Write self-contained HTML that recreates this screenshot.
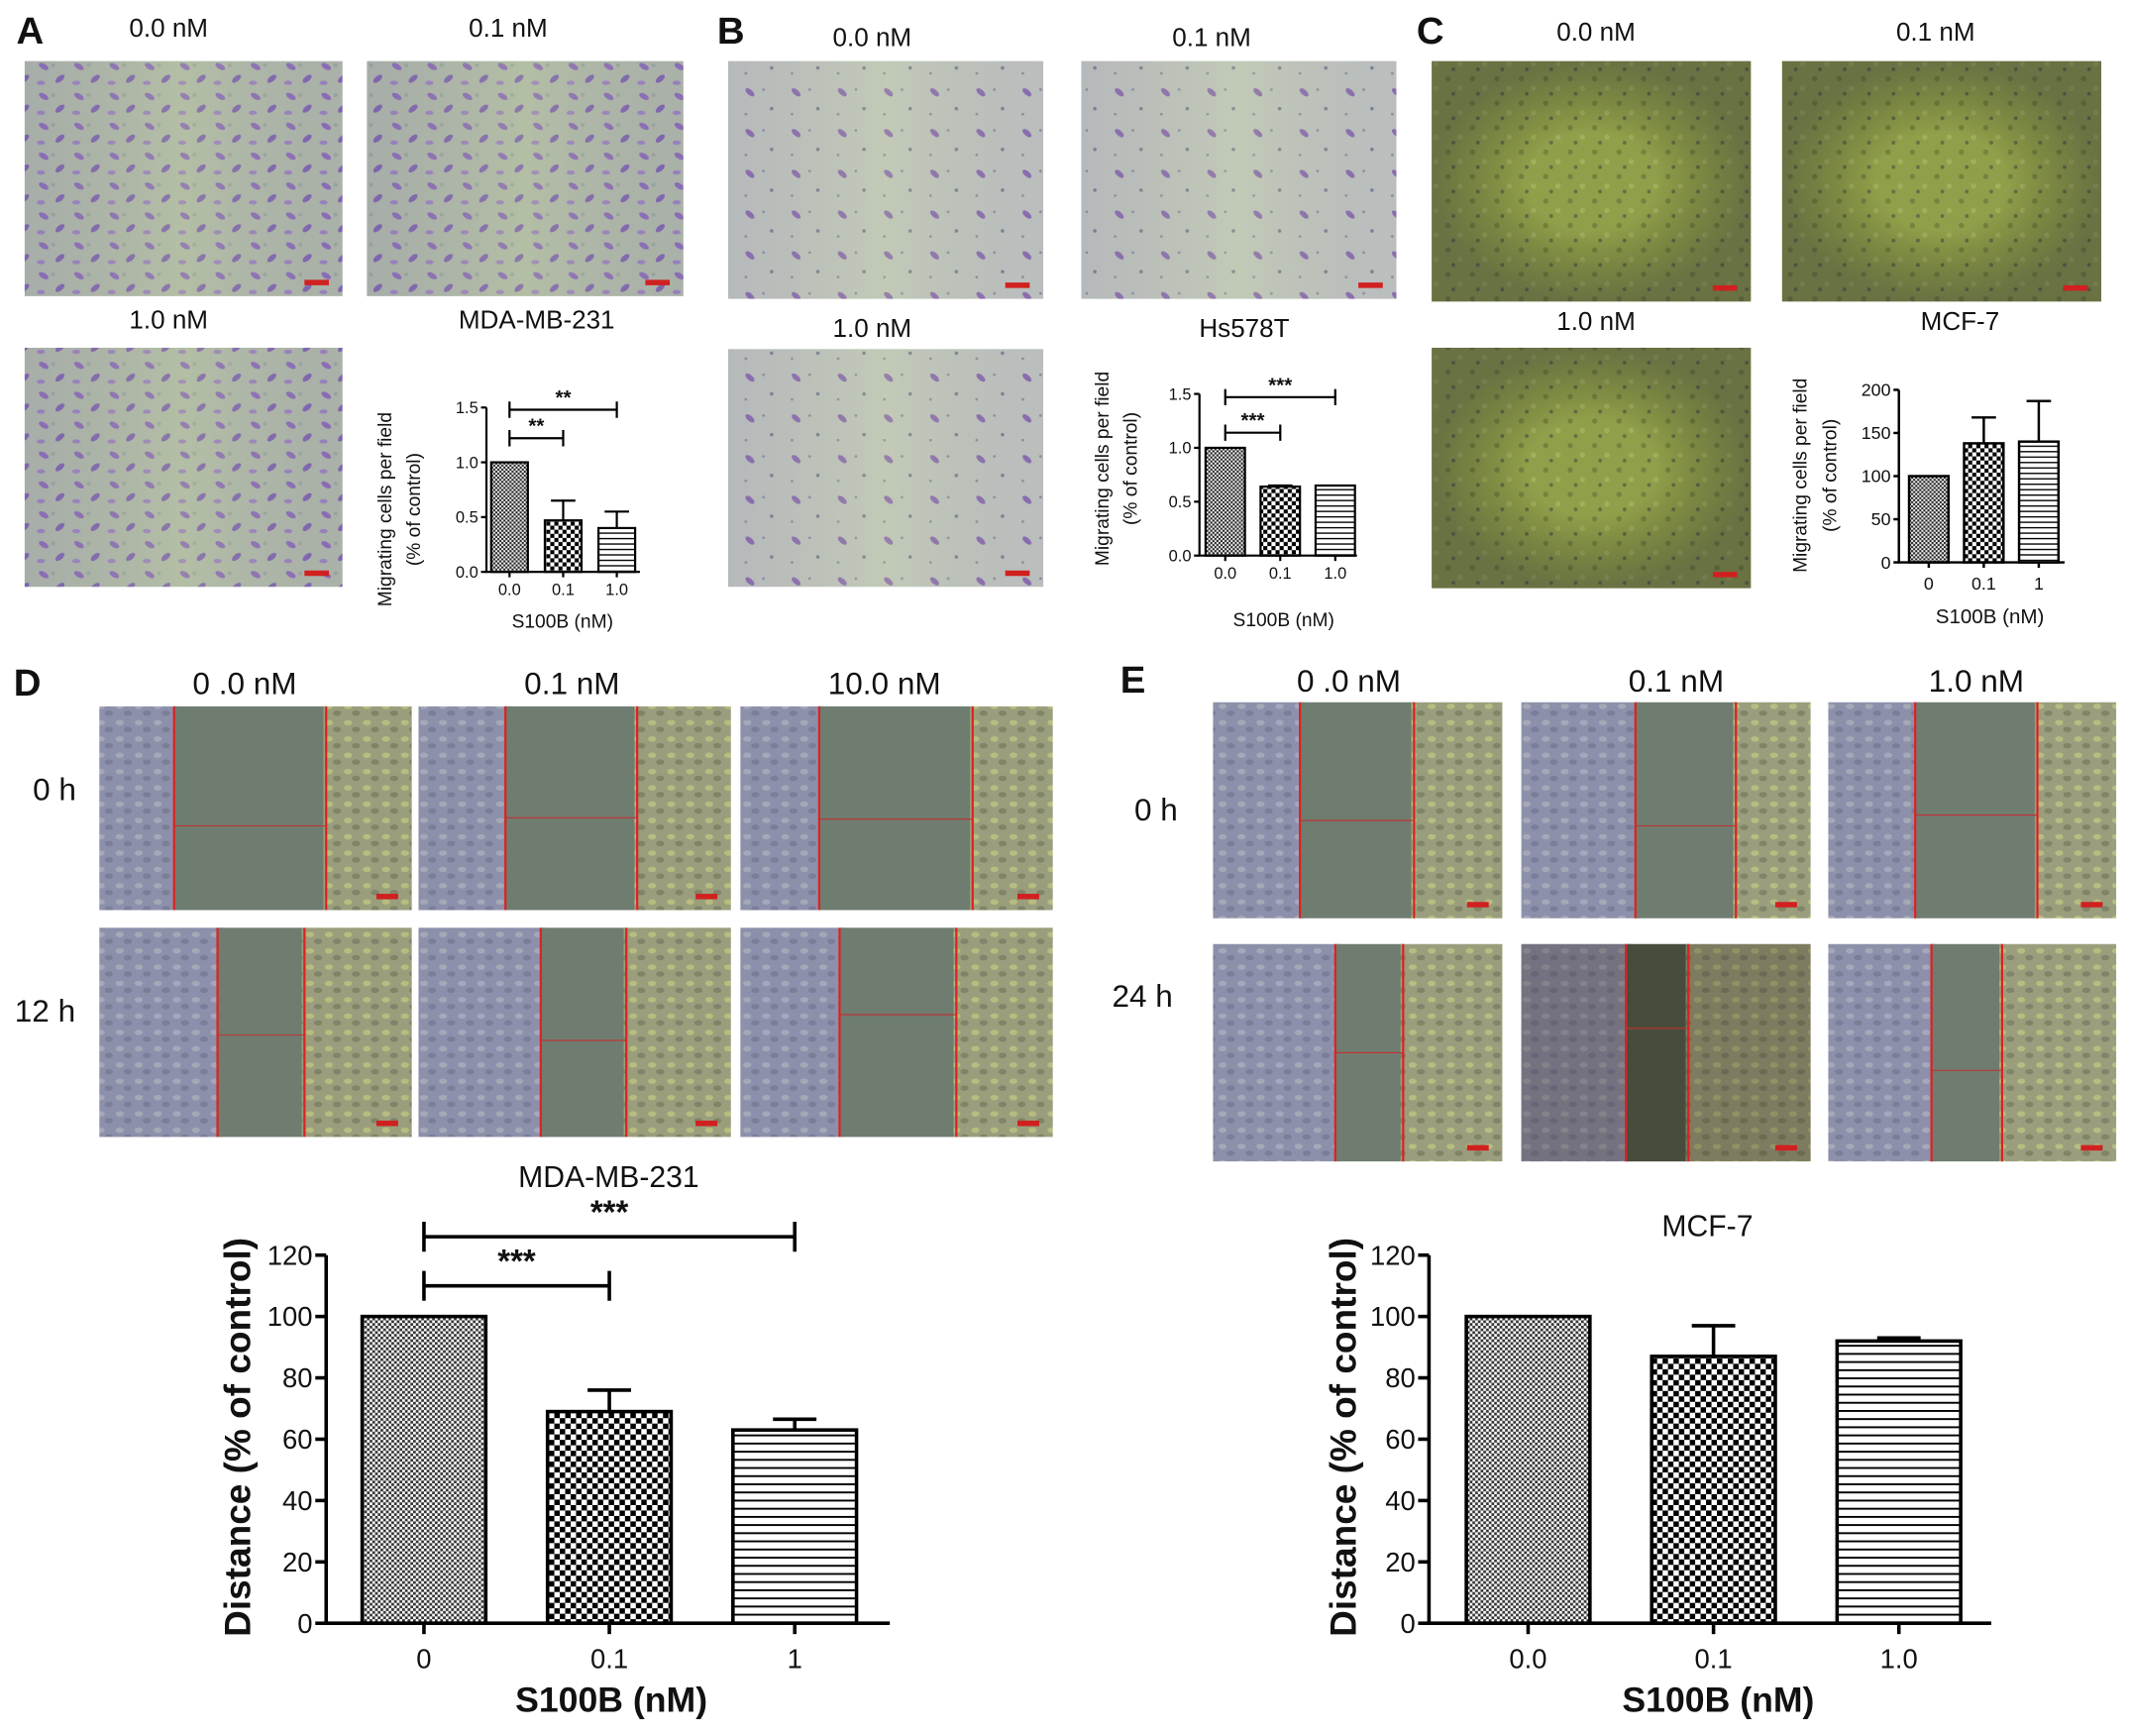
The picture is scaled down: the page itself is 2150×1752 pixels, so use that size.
<!DOCTYPE html>
<html><head><meta charset="utf-8"><style>
html,body{margin:0;padding:0;background:#fff;}
svg{display:block;font-family:"Liberation Sans",Arial,sans-serif;}
</style></head><body>
<svg id="fig" width="2150" height="1752" viewBox="0 0 1568 1278" xmlns="http://www.w3.org/2000/svg">
<defs>
<pattern id="pFine" width="4" height="4" patternUnits="userSpaceOnUse"><rect width="4" height="4" fill="#fff"/><rect width="2" height="2" fill="#333"/><rect x="2" y="2" width="2" height="2" fill="#333"/></pattern>
<pattern id="pCheck" width="8" height="8" patternUnits="userSpaceOnUse"><rect width="8" height="8" fill="#fff"/><rect width="4" height="4" fill="#000"/><rect x="4" y="4" width="4" height="4" fill="#000"/></pattern>
<pattern id="pLines" width="8" height="6" patternUnits="userSpaceOnUse"><rect width="8" height="6" fill="#fff"/><rect y="0" width="8" height="1.4" fill="#000"/></pattern>
<pattern id="pLinesS" width="6" height="4" patternUnits="userSpaceOnUse"><rect width="6" height="4" fill="#fff"/><rect y="0" width="6" height="1" fill="#000"/></pattern>
<pattern id="pFineS" width="3" height="3" patternUnits="userSpaceOnUse"><rect width="3" height="3" fill="#eee"/><rect width="1.5" height="1.5" fill="#222"/><rect x="1.5" y="1.5" width="1.5" height="1.5" fill="#222"/></pattern>
<pattern id="pCheckS" width="6" height="6" patternUnits="userSpaceOnUse"><rect width="6" height="6" fill="#fff"/><rect width="3" height="3" fill="#000"/><rect x="3" y="3" width="3" height="3" fill="#000"/></pattern>
<pattern id="cellsA" width="26" height="22" patternUnits="userSpaceOnUse"><rect width="26" height="22" fill="#aeb8aa"/><ellipse cx="6" cy="5" rx="4" ry="2" fill="#8a6ab8" transform="rotate(30 6 5)"/><ellipse cx="18" cy="14" rx="4" ry="2" fill="#7d62b0" transform="rotate(-40 18 14)"/><circle cx="13" cy="4" r="1.5" fill="#9aa6a0"/><ellipse cx="4" cy="17" rx="3" ry="1.6" fill="#9a80c0"/></pattern>
<pattern id="cellsB" width="34" height="30" patternUnits="userSpaceOnUse"><rect width="34" height="30" fill="#c0c6c0"/><ellipse cx="8" cy="8" rx="4" ry="2" fill="#8a6ab0" transform="rotate(40 8 8)"/><circle cx="24" cy="20" r="1.3" fill="#7a7e90"/><circle cx="18" cy="6" r="1" fill="#8a8ea0"/><circle cx="5" cy="24" r="1" fill="#8a8ea0"/></pattern>
<pattern id="cellsC" width="18" height="18" patternUnits="userSpaceOnUse"><rect width="18" height="18" fill="#98a84e"/><circle cx="4" cy="4" r="2" fill="#7c8a40"/><circle cx="13" cy="11" r="2" fill="#aab860"/><circle cx="8" cy="15" r="1.4" fill="#6a7448"/></pattern>
<pattern id="leftT" width="14" height="12" patternUnits="userSpaceOnUse"><rect width="14" height="12" fill="#8d90aa"/><ellipse cx="4" cy="4" rx="3" ry="2" fill="#a4a8b8"/><ellipse cx="10" cy="9" rx="3" ry="2" fill="#7a7e98"/></pattern>
<pattern id="rightT" width="14" height="12" patternUnits="userSpaceOnUse"><rect width="14" height="12" fill="#9a9e7c"/><ellipse cx="4" cy="4" rx="3" ry="2" fill="#b8bc80"/><ellipse cx="10" cy="9" rx="3" ry="2" fill="#808468"/></pattern>
<linearGradient id="shadeA" x1="0" y1="0" x2="1" y2="0"><stop offset="0" stop-color="#8070a0" stop-opacity="0.15"/><stop offset="0.5" stop-color="#c8d890" stop-opacity="0.2"/><stop offset="1" stop-color="#8070a0" stop-opacity="0.1"/></linearGradient>
<radialGradient id="vigC"><stop offset="0.4" stop-color="#000" stop-opacity="0.05"/><stop offset="1" stop-color="#223" stop-opacity="0.4"/></radialGradient>
</defs>
<g id="root"></g>
</svg>
<script>
// ---------- chart data ----------
const catsA = ["0.0","0.1","1.0"];
const valsA = [1.0, 0.47, 0.40];
const errsA = [0, 0.18, 0.15];
const ticksA = [0, 0.5, 1.0, 1.5];
const tickLabelsA = ["0.0","0.5","1.0","1.5"];

const catsB = ["0.0","0.1","1.0"];
const valsB = [1.0, 0.64, 0.65];
const errsB = [0, 0.01, 0];
const ticksB = [0, 0.5, 1.0, 1.5];
const tickLabelsB = ["0.0","0.5","1.0","1.5"];

const catsC = ["0","0.1","1"];
const valsC = [100, 138, 140];
const errsC = [0, 30, 47];
const ticksC = [0, 50, 100, 150, 200];
const tickLabelsC = ["0","50","100","150","200"];

const catsD = ["0","0.1","1"];
const valsD = [100, 69, 63];
const errsD = [0, 7, 3.5];
const ticksD = [0, 20, 40, 60, 80, 100, 120];
const tickLabelsD = ["0","20","40","60","80","100","120"];

const catsE = ["0.0","0.1","1.0"];
const valsE = [100, 87, 92];
const errsE = [0, 10, 1];
const ticksE = [0, 20, 40, 60, 80, 100, 120];
const tickLabelsE = ["0","20","40","60","80","100","120"];

const NS = "http://www.w3.org/2000/svg";
const root = document.getElementById('root');
function el(tag, attrs, parent, text){
  const e = document.createElementNS(NS, tag);
  for (const k in attrs) e.setAttribute(k, attrs[k]);
  if (text !== undefined) e.textContent = text;
  (parent || root).appendChild(e);
  return e;
}
function txt(x, y, s, size, opts, name){
  opts = opts || {};
  let parent = opts.parent || root;
  let tx = x, ty = y;
  if (opts.rot){
    parent = el('g', {transform:'translate('+x+' '+y+') rotate(-90)'}, parent);
    tx = 0; ty = 0;
  }
  const t = el('text', {x:tx, y:ty, 'font-size':size, 'text-anchor':opts.anchor||'middle', fill:'#111', 'font-weight':opts.bold?'bold':'normal'}, parent, s);
  
  
  return t;
}

// ---------- micrographs ----------
function micro(x, y, w, h, fill, name, extra){
  const g = el('g', {});
  
  
  el('rect', {x:x, y:y, width:w, height:h, fill:'url(#'+fill+')'}, g);
  if (extra) el('rect', {x:x, y:y, width:w, height:h, fill:'url(#'+extra+')'}, g);
  el('rect', {x:x+w-28, y:y+h-12, width:18, height:4, fill:'#d02020'}, g);
  return g;
}
function scratch(x, y, w, h, l1, l2, hy, name, dark){
  const g = el('g', {});
  
  
  el('rect', {x:x, y:y, width:l1-x+4, height:h, fill:'url(#leftT)'}, g);
  el('rect', {x:l1, y:y, width:l2-l1, height:h, fill: dark ? '#4e5a48' : '#6f7c70'}, g);
  el('rect', {x:l2-2, y:y, width:x+w-l2+2, height:h, fill:'url(#rightT)'}, g);
  if (dark) el('rect', {x:x, y:y, width:w, height:h, fill:'#3a3020', opacity:0.3}, g);
  el('line', {x1:l1, y1:y, x2:l1, y2:y+h, stroke:'#e02020', 'stroke-width':1.6}, g);
  el('line', {x1:l2, y1:y, x2:l2, y2:y+h, stroke:'#e02020', 'stroke-width':1.6}, g);
  el('line', {x1:l1, y1:hy, x2:l2, y2:hy, stroke:'#c03030', 'stroke-width':0.8}, g);
  el('rect', {x:x+w-26, y:y+h-12, width:16, height:4, fill:'#d02020'}, g);
  return g;
}

// panel A
txt(22, 32, 'A', 28, {bold:true}, 'panel-label-a');
txt(124, 27, '0.0 nM', 19, {}, 'label-a-0nm');
txt(374, 27, '0.1 nM', 19, {}, 'label-a-01nm');
txt(124, 242, '1.0 nM', 19, {}, 'label-a-1nm');
txt(395, 242, 'MDA-MB-231', 19, {}, 'title-a');
micro(18, 45, 234, 173, 'cellsA', 'image-a-0nm', 'shadeA');
micro(270, 45, 233, 173, 'cellsA', 'image-a-01nm', 'shadeA');
micro(18, 256, 234, 176, 'cellsA', 'image-a-1nm', 'shadeA');
// panel B
txt(538, 32, 'B', 28, {bold:true}, 'panel-label-b');
txt(642, 34, '0.0 nM', 19, {}, 'label-b-0nm');
txt(892, 34, '0.1 nM', 19, {}, 'label-b-01nm');
txt(642, 248, '1.0 nM', 19, {}, 'label-b-1nm');
txt(916, 248, 'Hs578T', 19, {}, 'title-b');
micro(536, 45, 232, 175, 'cellsB', 'image-b-0nm', 'shadeA');
micro(796, 45, 232, 175, 'cellsB', 'image-b-01nm', 'shadeA');
micro(536, 257, 232, 175, 'cellsB', 'image-b-1nm', 'shadeA');
// panel C
txt(1053, 32, 'C', 28, {bold:true}, 'panel-label-c');
txt(1175, 30, '0.0 nM', 19, {}, 'label-c-0nm');
txt(1425, 30, '0.1 nM', 19, {}, 'label-c-01nm');
txt(1175, 243, '1.0 nM', 19, {}, 'label-c-1nm');
txt(1443, 243, 'MCF-7', 19, {}, 'title-c');
micro(1054, 45, 235, 177, 'cellsC', 'image-c-0nm', 'vigC');
micro(1312, 45, 235, 177, 'cellsC', 'image-c-01nm', 'vigC');
micro(1054, 256, 235, 177, 'cellsC', 'image-c-1nm', 'vigC');
// panel D
txt(20, 512, 'D', 28, {bold:true}, 'panel-label-d');
txt(180, 511, '0 .0 nM', 23, {}, 'label-d-0nm');
txt(421, 511, '0.1 nM', 23, {}, 'label-d-01nm');
txt(651, 511, '10.0 nM', 23, {}, 'label-d-10nm');
txt(40, 589, '0 h', 23, {}, 'label-d-0h');
txt(33, 752, '12 h', 23, {}, 'label-d-12h');
scratch(73, 520, 230, 150, 128, 240, 608, 'image-d-0nm-0h');
scratch(308, 520, 230, 150, 372, 469, 602, 'image-d-01nm-0h');
scratch(545, 520, 230, 150, 603, 716, 603, 'image-d-10nm-0h');
scratch(73, 683, 230, 154, 160, 224, 762, 'image-d-0nm-12h');
scratch(308, 683, 230, 154, 398, 461, 766, 'image-d-01nm-12h');
scratch(545, 683, 230, 154, 618, 704, 747, 'image-d-10nm-12h');
// panel E
txt(834, 510, 'E', 28, {bold:true}, 'panel-label-e');
txt(993, 509, '0 .0 nM', 23, {}, 'label-e-0nm');
txt(1234, 509, '0.1 nM', 23, {}, 'label-e-01nm');
txt(1455, 509, '1.0 nM', 23, {}, 'label-e-1nm');
txt(851, 604, '0 h', 23, {}, 'label-e-0h');
txt(841, 741, '24 h', 23, {}, 'label-e-24h');
scratch(893, 517, 213, 159, 957, 1041, 604, 'image-e-0nm-0h');
scratch(1120, 517, 213, 159, 1204, 1278, 608, 'image-e-01nm-0h');
scratch(1346, 517, 212, 159, 1410, 1500, 600, 'image-e-1nm-0h');
scratch(893, 695, 213, 160, 983, 1033, 775, 'image-e-0nm-24h');
scratch(1120, 695, 213, 160, 1197, 1243, 757, 'image-e-01nm-24h', true);
scratch(1346, 695, 212, 160, 1422, 1474, 788, 'image-e-1nm-24h');

// ---------- bar charts ----------
function chart(c){
  const g = el('g', {});
  
  
  const ymax = c.ticks[c.ticks.length-1];
  const Y = v => c.yBase - (v / ymax) * (c.yBase - c.yTop);
  const X = i => c.x0 + c.offset + i * c.step;
  const pats = c.pats;
  c.vals.forEach((v, i) => {
    const r = el('rect', {x:X(i)-c.bw/2, y:Y(v), width:c.bw, height:c.yBase-Y(v), fill:'url(#'+pats[i]+')', stroke:'#000', 'stroke-width':c.sw}, g);
    
    
    if (c.errs[i] > 0){
      const e = el('path', {d:'M'+X(i)+' '+Y(v)+'V'+Y(v+c.errs[i])+'M'+(X(i)-c.cap)+' '+Y(v+c.errs[i])+'H'+(X(i)+c.cap), stroke:'#000', 'stroke-width':c.sw, fill:'none'}, g);
      
      
    }
    txt(X(i), c.yBase + c.xlOff, c.cats[i], c.fs, {parent:g}, 'x-tick-label');
    el('line', {x1:X(i), y1:c.yBase, x2:X(i), y2:c.yBase+c.tl, stroke:'#000', 'stroke-width':c.sw}, g);
  });
  const ax = el('path', {d:'M'+c.x0+' '+c.yTop+'V'+c.yBase+'H'+c.xEnd, stroke:'#000', 'stroke-width':c.sw, fill:'none'}, g);
  
  
  c.ticks.forEach((t, i) => {
    el('line', {x1:c.x0-c.tl, y1:Y(t), x2:c.x0, y2:Y(t), stroke:'#000', 'stroke-width':c.sw}, g);
    txt(c.x0-c.tl-2, Y(t)+c.fs*0.35, c.tickLabels[i], c.fs, {anchor:'end', parent:g}, 'y-tick-label');
  });
  (c.sig || []).forEach(s => {
    const y = Y(s.level), x1 = X(s.a), x2 = X(s.b);
    const p = el('path', {d:'M'+x1+' '+y+'H'+x2+'M'+x1+' '+(y-c.sigCap)+'V'+(y+c.sigCap)+'M'+x2+' '+(y-c.sigCap)+'V'+(y+c.sigCap), stroke:'#000', 'stroke-width':c.sw, fill:'none'}, g);
    
    
    txt((x1+x2)/2, y - c.sigGap, s.label, c.sigFs, {parent:g, bold:true}, 'significance-stars');
  });
  txt(c.xtX, c.xtY, 'S100B (nM)', c.xtFs, {parent:g, bold:c.bold}, 'x-axis-title');
  c.ytitles.forEach((s, i) => txt(c.ytX[i], c.ytY, s, c.ytFs, {parent:g, rot:true, bold:c.bold}, 'y-axis-title'));
  return g;
}
const sigA = [{a:0,b:1,level:1.22,label:'**'},{a:0,b:2,level:1.48,label:'**'}];
const sigB = [{a:0,b:1,level:1.14,label:'***'},{a:0,b:2,level:1.47,label:'***'}];
const sigD = [{a:0,b:1,level:110,label:'***'},{a:0,b:2,level:126,label:'***'}];

chart({name:'chart-a', cats:catsA, vals:valsA, errs:errsA, ticks:ticksA, tickLabels:tickLabelsA,
  x0:358, xEnd:471, yBase:421, yTop:300, offset:17, step:39.5, bw:27, cap:9, sw:1.6, tl:4, fs:12, xlOff:17,
  pats:['pFineS','pCheckS','pLinesS'], sig:sigA, sigCap:6, sigGap:4, sigFs:15,
  xtX:414, xtY:462, xtFs:14, ytitles:['Migrating cells per field','(% of control)'], ytX:[288,309], ytY:375, ytFs:14, bold:false});
chart({name:'chart-b', cats:catsB, vals:valsB, errs:errsB, ticks:ticksB, tickLabels:tickLabelsB,
  x0:883, xEnd:999, yBase:409, yTop:290, offset:19, step:40.5, bw:29, cap:9, sw:1.6, tl:4, fs:12, xlOff:17,
  pats:['pFineS','pCheckS','pLinesS'], sig:sigB, sigCap:6, sigGap:4, sigFs:15,
  xtX:945, xtY:461, xtFs:14, ytitles:['Migrating cells per field','(% of control)'], ytX:[816,837], ytY:345, ytFs:14, bold:false});
chart({name:'chart-c', cats:catsC, vals:valsC, errs:errsC, ticks:ticksC, tickLabels:tickLabelsC,
  x0:1398, xEnd:1520, yBase:414, yTop:287, offset:22, step:40.5, bw:29, cap:9, sw:1.8, tl:4, fs:13, xlOff:20,
  pats:['pFineS','pCheckS','pLinesS'], sig:[], sigCap:6, sigGap:4, sigFs:15,
  xtX:1465, xtY:459, xtFs:15, ytitles:['Migrating cells per field','(% of control)'], ytX:[1330,1352], ytY:350, ytFs:14, bold:false});
chart({name:'chart-d', cats:catsD, vals:valsD, errs:errsD, ticks:ticksD, tickLabels:tickLabelsD,
  x0:240, xEnd:655, yBase:1195, yTop:924, offset:72, step:136.5, bw:91, cap:16, sw:2.6, tl:8, fs:20, xlOff:33,
  pats:['pFine','pCheck','pLines'], sig:sigD, sigCap:11, sigGap:10, sigFs:24,
  xtX:450, xtY:1260, xtFs:26, ytitles:['Distance (% of control)'], ytX:[184], ytY:1058, ytFs:27, bold:true});
txt(448, 874, 'MDA-MB-231', 22, {}, 'title-d');
chart({name:'chart-e', cats:catsE, vals:valsE, errs:errsE, ticks:ticksE, tickLabels:tickLabelsE,
  x0:1052, xEnd:1466, yBase:1195, yTop:924, offset:73, step:136.5, bw:91, cap:16, sw:2.6, tl:8, fs:20, xlOff:33,
  pats:['pFine','pCheck','pLines'], sig:[], sigCap:11, sigGap:10, sigFs:24,
  xtX:1265, xtY:1260, xtFs:26, ytitles:['Distance (% of control)'], ytX:[998], ytY:1058, ytFs:27, bold:true});
txt(1257, 910, 'MCF-7', 22, {}, 'title-e');
</script>
</body></html>
